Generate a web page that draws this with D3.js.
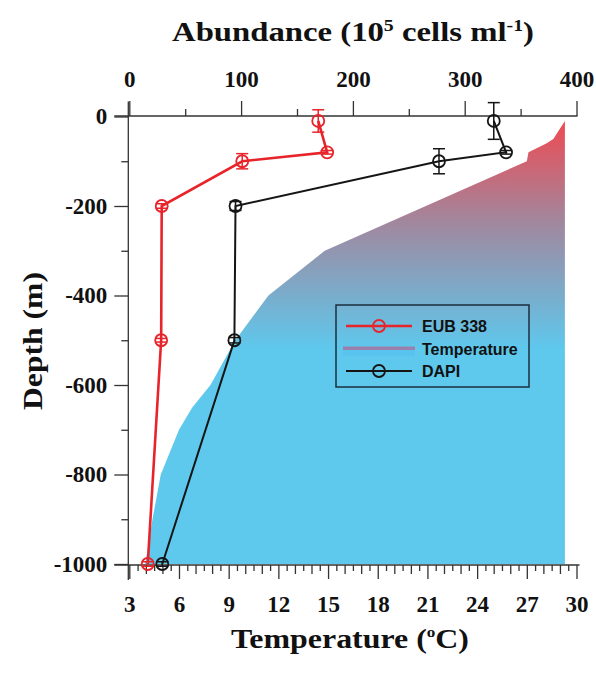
<!DOCTYPE html>
<html>
<head>
<meta charset="utf-8">
<script src="https://cdn.jsdelivr.net/npm/d3@7"></script>
<style>
  body { margin: 0; background: #fff; }
  svg { display: block; }
</style>
</head>
<body>
<svg id="chart" width="596" height="685"></svg>
<script>
// abundance profiles (10^5 cells/ml) vs depth (m)
const depths = [-10, -80, -100, -200, -500, -1000];
const eub = [169, 177, 101, 29, 28.5, 16.5];
const eubErr = [25, 4, 17, 5, 4, 5];      // error bar half-height, m
const dapi = [326, 337, 277, 95, 94, 29.5];
const dapiErr = [41, 4, 28, 10, 6, 5];

// temperature profile
const tDepth = [-10, -50, -60, -80, -100, -300, -400, -500, -600, -650, -700, -800, -900, -960, -1000];
const tempC = [29.3, 28.6, 28.2, 27.1, 27.0, 14.8, 11.4, 9.4, 7.9, 6.8, 6.0, 4.9, 4.4, 4.15, 3.95];

const abTicks = [0, 100, 200, 300, 400];
const depthTicks = [0, -200, -400, -600, -800, -1000];
const tempTicks = [3, 6, 9, 12, 15, 18, 21, 24, 27, 30];

const svg = d3.select("#chart");

const xAb = d3.scaleLinear().domain([0, 400]).range([129.3, 576.5]);
const xT = d3.scaleLinear().domain([3, 30]).range([129.3, 576.5]);
const y = d3.scaleLinear().domain([0, -1000]).range([116.5, 564]);

const RED = "#e8242b", BLK = "#151515", BLUE = "#5ec8ed";
const tf = "'Liberation Serif', 'Times New Roman', serif";

// gradient for the temperature area
const defs = svg.append("defs");
const grad = defs.append("linearGradient").attr("id", "tgrad")
  .attr("gradientUnits", "userSpaceOnUse")
  .attr("x1", 0).attr("x2", 0).attr("y1", y(-10)).attr("y2", y(-520));
grad.append("stop").attr("offset", 0).attr("stop-color", "#ef4a52");
grad.append("stop").attr("offset", 0.45).attr("stop-color", "#a0889f");
grad.append("stop").attr("offset", 1).attr("stop-color", BLUE);

const tMax = d3.max(tempC);
const tData = tDepth.map((d, i) => ({ d: d, t: tempC[i] }));
const area = d3.area()
  .y(p => y(p.d))
  .x0(p => xT(p.t))
  .x1(() => xT(tMax));
svg.append("path").datum(tData).attr("d", area).attr("fill", "url(#tgrad)");

// axes
const axisCol = "#333";
const plain = d => String(d);
svg.append("g").attr("transform", `translate(0,${y(0) - 0.5})`)
  .call(d3.axisTop(xAb).tickValues(abTicks).tickSize(15).tickPadding(14).tickFormat(plain));
svg.append("g").attr("transform", `translate(0,${y(0) - 0.5})`)
  .call(d3.axisTop(xAb).tickValues([50, 150, 250, 350]).tickSize(7).tickFormat(""));

svg.append("g").attr("transform", `translate(${xAb(0) - 1},0)`)
  .call(d3.axisLeft(y).tickValues(depthTicks).tickSize(14).tickPadding(7).tickFormat(plain));
svg.append("g").attr("transform", `translate(${xAb(0) - 1},0)`)
  .call(d3.axisLeft(y).tickValues([-100, -300, -500, -700, -900]).tickSize(7).tickFormat(""));

svg.append("g").attr("transform", `translate(0,${y(-1000) + 1})`)
  .call(d3.axisBottom(xT).tickValues(tempTicks).tickSize(14).tickPadding(17).tickFormat(plain));
const halfTicks = d3.range(3.5, 30.01, 0.5).filter(v => v % 3 !== 0);
svg.append("g").attr("class", "half").attr("transform", `translate(0,${y(-1000) + 1})`)
  .call(d3.axisBottom(xT).tickValues(halfTicks).tickFormat("").tickSize(6));
svg.selectAll(".domain").remove();
svg.selectAll(".tick line").attr("stroke", axisCol).attr("stroke-width", 1.3);
svg.selectAll(".half .tick").filter(v => Number.isInteger(v)).select("line").attr("y2", 9);
svg.selectAll(".tick text")
  .attr("font-family", tf).attr("font-weight", "bold").attr("font-size", 23).attr("fill", "#111");

// axis lines, overhanging the plot corner like the original
const x0 = xAb(0) - 1;
svg.append("line").attr("x1", x0 - 14).attr("x2", xAb(400) + 1)
  .attr("y1", y(0) - 0.5).attr("y2", y(0) - 0.5).attr("stroke", axisCol).attr("stroke-width", 1.3);
svg.append("line").attr("x1", x0 - 14).attr("x2", xAb(400) + 3)
  .attr("y1", y(-1000) + 1).attr("y2", y(-1000) + 1).attr("stroke", axisCol).attr("stroke-width", 1.3);
svg.append("line").attr("x1", x0).attr("x2", x0)
  .attr("y1", y(0) - 15).attr("y2", y(-1000) + 16).attr("stroke", axisCol).attr("stroke-width", 1.3);

// series
function series(vals, errs, col, lw) {
  const pts = depths.map((d, i) => ({ d: d, v: vals[i], e: errs[i] }));
  const line = d3.line().x(p => xAb(p.v)).y(p => y(p.d));
  svg.append("path").datum(pts).attr("d", line)
    .attr("fill", "none").attr("stroke", col).attr("stroke-width", lw);
  const g = svg.append("g").attr("stroke", col).attr("stroke-width", 1.5).attr("fill", "none");
  pts.forEach(p => {
    const cx = xAb(p.v);
    const yt = y(p.d + p.e), yb = y(p.d - p.e);
    g.append("line").attr("x1", cx).attr("x2", cx).attr("y1", yt).attr("y2", yb);
    g.append("line").attr("x1", cx - 6).attr("x2", cx + 6).attr("y1", yt).attr("y2", yt);
    g.append("line").attr("x1", cx - 6).attr("x2", cx + 6).attr("y1", yb).attr("y2", yb);
    g.append("circle").attr("cx", cx).attr("cy", y(p.d)).attr("r", 6).attr("stroke-width", 1.8);
  });
}
series(eub, eubErr, RED, 2.6);
series(dapi, dapiErr, BLK, 2);

// legend
const lg = svg.append("g");
lg.append("rect").attr("x", 336).attr("y", 305).attr("width", 193).attr("height", 82)
  .attr("fill", "none").attr("stroke", "#1d2e3e").attr("stroke-width", 1.5);
function lgText(txt, yy) {
  lg.append("text").attr("x", 422).attr("y", yy).attr("dy", "0.35em")
    .attr("font-family", "'Liberation Sans', Arial, sans-serif").attr("font-weight", "bold")
    .attr("font-size", 16).attr("fill", "#111").text(txt);
}
lg.append("line").attr("x1", 346).attr("x2", 412).attr("y1", 326).attr("y2", 326)
  .attr("stroke", RED).attr("stroke-width", 2.6);
lg.append("circle").attr("cx", 379).attr("cy", 326).attr("r", 6).attr("fill", "none")
  .attr("stroke", RED).attr("stroke-width", 1.8);
lgText("EUB 338", 326);
lg.append("rect").attr("x", 343).attr("y", 346.5).attr("width", 72).attr("height", 3.5).attr("fill", "#9a80ad");
lg.append("rect").attr("x", 343).attr("y", 350).attr("width", 72).attr("height", 6).attr("fill", "#58c3ef");
lgText("Temperature", 349);
lg.append("line").attr("x1", 346).attr("x2", 412).attr("y1", 371).attr("y2", 371)
  .attr("stroke", BLK).attr("stroke-width", 2);
lg.append("circle").attr("cx", 379).attr("cy", 371).attr("r", 6).attr("fill", "none")
  .attr("stroke", BLK).attr("stroke-width", 1.8);
lgText("DAPI", 371);

// titles
const t1 = svg.append("text").attr("x", 353).attr("y", 41).attr("text-anchor", "middle")
  .attr("font-family", tf).attr("font-weight", "bold").attr("font-size", 28).attr("fill", "#111")
  .attr("textLength", 362).attr("lengthAdjust", "spacingAndGlyphs");
t1.append("tspan").text("Abundance (10");
t1.append("tspan").attr("font-size", 17).attr("dy", -10).text("5");
t1.append("tspan").attr("dy", 10).text(" cells ml");
t1.append("tspan").attr("font-size", 17).attr("dy", -10).text("-1");
t1.append("tspan").attr("dy", 10).text(")");

const t2 = svg.append("text").attr("x", 350).attr("y", 648).attr("text-anchor", "middle")
  .attr("font-family", tf).attr("font-weight", "bold").attr("font-size", 28).attr("fill", "#111")
  .attr("textLength", 238).attr("lengthAdjust", "spacingAndGlyphs");
t2.append("tspan").text("Temperature (");
t2.append("tspan").attr("font-size", 15).attr("dy", -11).text("o");
t2.append("tspan").attr("dy", 11).text("C)");

svg.append("text").attr("transform", "translate(42,341) rotate(-90)").attr("text-anchor", "middle")
  .attr("font-family", tf).attr("font-weight", "bold").attr("font-size", 28).attr("fill", "#111")
  .attr("textLength", 138).attr("lengthAdjust", "spacingAndGlyphs")
  .text("Depth (m)");
</script>
</body>
</html>
